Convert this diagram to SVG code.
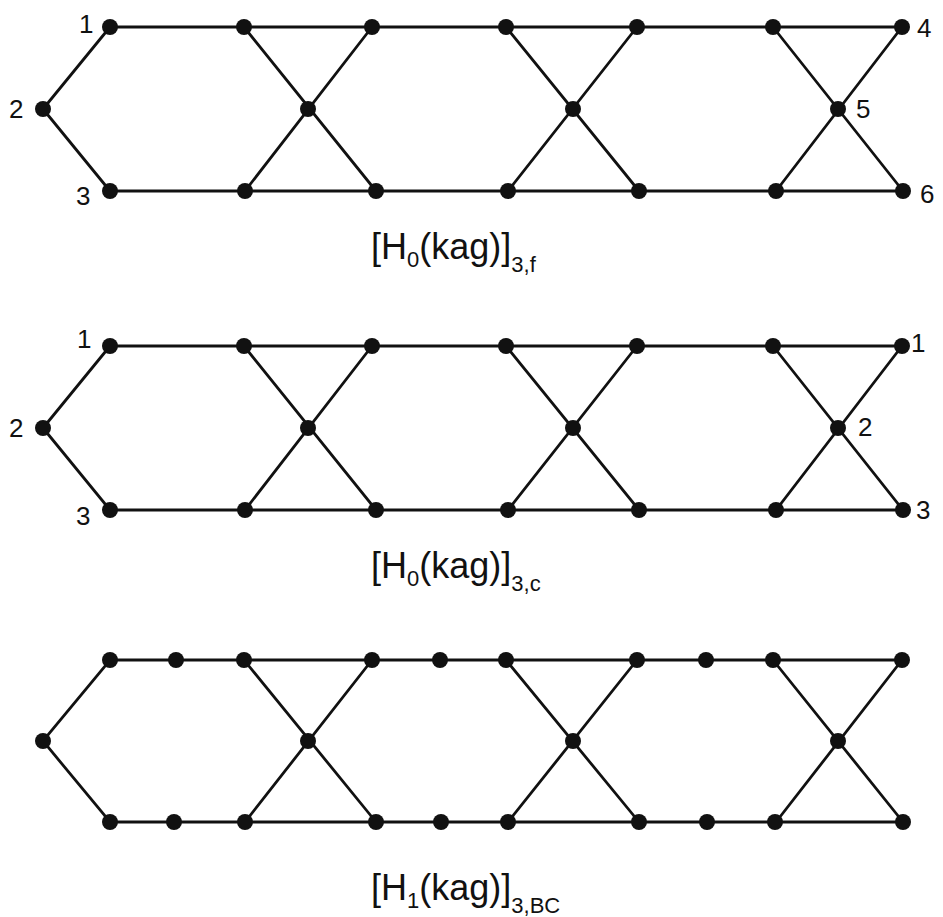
<svg xmlns="http://www.w3.org/2000/svg" width="943" height="917" viewBox="0 0 943 917">
<style>
.e{stroke:#111;stroke-width:2.8;fill:none;stroke-linecap:round}
.n{fill:#111}
.l{font-family:"Liberation Sans",Arial,sans-serif;font-size:26px;fill:#111}
.t{font-family:"Liberation Sans",Arial,sans-serif;font-size:36px;fill:#111}
.s{font-size:22px}
</style>
<defs>
<g id="frame">
<path class="e" d="M110 0H902M110 164H903M43 82L110 0M43 82L110 164M244 0L376 164M372 0L245 164M506 0L639 164M637 0L508 164M773 0L903 164M902 0L776 164"/>
</g>
<g id="dots">
<circle class="n" cx="110" cy="0" r="8"/><circle class="n" cx="244" cy="0" r="8"/><circle class="n" cx="372" cy="0" r="8"/><circle class="n" cx="506" cy="0" r="8"/><circle class="n" cx="637" cy="0" r="8"/><circle class="n" cx="773" cy="0" r="8"/><circle class="n" cx="902" cy="0" r="8"/>
<circle class="n" cx="43" cy="82" r="8"/><circle class="n" cx="308" cy="82" r="8"/><circle class="n" cx="573" cy="82" r="8"/><circle class="n" cx="838" cy="82" r="8"/>
<circle class="n" cx="110" cy="164" r="8"/><circle class="n" cx="245" cy="164" r="8"/><circle class="n" cx="376" cy="164" r="8"/><circle class="n" cx="508" cy="164" r="8"/><circle class="n" cx="639" cy="164" r="8"/><circle class="n" cx="776" cy="164" r="8"/><circle class="n" cx="903" cy="164" r="8"/>
</g>
</defs>
<g id="connectors">
<use href="#frame" transform="translate(0,27)"/>
<use href="#frame" transform="translate(0,346)"/>
<use href="#frame" transform="translate(0,660) scale(1,0.9878)"/>
</g>
<g id="graph1">
<use href="#dots" transform="translate(0,27)"/>
<text class="l" x="79" y="33">1</text>
<text class="l" x="9" y="118">2</text>
<text class="l" x="76" y="205">3</text>
<text class="l" x="917" y="37">4</text>
<text class="l" x="856" y="118">5</text>
<text class="l" x="920" y="203">6</text>
</g>
<g id="graph2">
<use href="#dots" transform="translate(0,346)"/>
<text class="l" x="77" y="348">1</text>
<text class="l" x="9" y="437">2</text>
<text class="l" x="76" y="525">3</text>
<text class="l" x="911" y="352">1</text>
<text class="l" x="858" y="436">2</text>
<text class="l" x="916" y="519">3</text>
</g>
<g id="graph3">
<circle class="n" cx="110" cy="660" r="8"/><circle class="n" cx="176" cy="660" r="8"/><circle class="n" cx="244" cy="660" r="8"/><circle class="n" cx="372" cy="660" r="8"/><circle class="n" cx="440" cy="660" r="8"/><circle class="n" cx="506" cy="660" r="8"/><circle class="n" cx="637" cy="660" r="8"/><circle class="n" cx="706" cy="660" r="8"/><circle class="n" cx="773" cy="660" r="8"/><circle class="n" cx="902" cy="660" r="8"/>
<circle class="n" cx="43" cy="741" r="8"/><circle class="n" cx="308" cy="741" r="8"/><circle class="n" cx="573" cy="741" r="8"/><circle class="n" cx="838" cy="741" r="8"/>
<circle class="n" cx="110" cy="822" r="8"/><circle class="n" cx="174" cy="822" r="8"/><circle class="n" cx="245" cy="822" r="8"/><circle class="n" cx="376" cy="822" r="8"/><circle class="n" cx="441" cy="822" r="8"/><circle class="n" cx="508" cy="822" r="8"/><circle class="n" cx="639" cy="822" r="8"/><circle class="n" cx="707" cy="822" r="8"/><circle class="n" cx="775" cy="822" r="8"/><circle class="n" cx="903" cy="822" r="8"/>
</g>
<g id="title1"><text class="t" x="371" y="259">[H<tspan class="s" dy="8">0</tspan><tspan dy="-8">(kag)]</tspan><tspan class="s" dy="13">3,f</tspan></text></g>
<g id="title2"><text class="t" x="371" y="578">[H<tspan class="s" dy="8">0</tspan><tspan dy="-8">(kag)]</tspan><tspan class="s" dy="13">3,c</tspan></text></g>
<g id="title3"><text class="t" x="371" y="900">[H<tspan class="s" dy="8">1</tspan><tspan dy="-8">(kag)]</tspan><tspan class="s" dy="13">3,BC</tspan></text></g>
</svg>
